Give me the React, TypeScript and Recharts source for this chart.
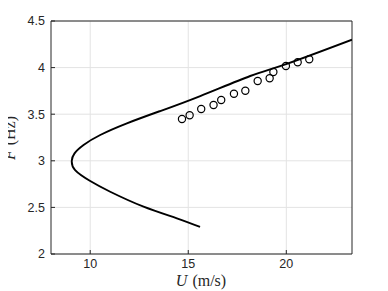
import { ComposedChart, Line, Scatter, XAxis, YAxis, CartesianGrid, ReferenceLine } from "recharts";

// model curve, traced from lower end through the turning point to the upper end
const curveU = [15.6, 14.42, 12.72, 11.02, 10.0, 9.23, 9.06, 9.2, 9.66, 10.51, 11.87, 13.57, 15.61, 18.16, 19.95, 23.35];
const curveF = [2.29, 2.383, 2.508, 2.668, 2.783, 2.9, 3.0, 3.08, 3.17, 3.277, 3.402, 3.534, 3.695, 3.91, 4.035, 4.3];

// measured points
const measU = [14.68, 15.07, 15.66, 16.29, 16.68, 17.33, 17.91, 18.54, 19.15, 19.34, 19.98, 20.58, 21.17];
const measF = [3.449, 3.488, 3.556, 3.599, 3.652, 3.72, 3.752, 3.856, 3.885, 3.953, 4.017, 4.057, 4.089];

const xTicks = [10, 15, 20];
const yTicks = [2, 2.5, 3, 3.5, 4, 4.5];
const xDomain = [8, 23.35];
const yDomain = [2, 4.5];

const curve = curveU.map((u, i) => ({ u, f: curveF[i] }));
const meas = measU.map((u, i) => ({ u, f: measF[i] }));

const axisColor = "#262626";
const tickFont = { fontFamily: "Liberation Sans, Arial, sans-serif", fontSize: 12.5, fill: axisColor };
const serif = "Liberation Serif, DejaVu Serif, serif";

const Ring = (props: any) => (
  <circle cx={props.cx} cy={props.cy} r={3.6} fill="none" stroke="#000" strokeWidth={1.2} />
);

export default function App() {
  return (
    <div style={{ width: 388, height: 291, margin: "-8px 0 0 -8px" }}>
      <ComposedChart width={388} height={291} margin={{ top: 21, right: 36, bottom: 0, left: 16 }}>
        <CartesianGrid xAxisId="b" yAxisId="l" stroke="#e3e3e3" strokeWidth={1} horizontalValues={yTicks} verticalValues={xTicks} />
        <XAxis
          xAxisId="b"
          type="number"
          dataKey="u"
          domain={xDomain}
          ticks={xTicks}
          allowDataOverflow
          height={37}
          stroke={axisColor}
          tickSize={-4}
          tickMargin={9}
          tick={tickFont}
          label={{
            content: () => (
              <text x={201} y={286} textAnchor="middle" fontFamily={serif} fontSize={16} fill={axisColor}>
                <tspan fontStyle="italic">U</tspan>
                <tspan dx={5}>(m/s)</tspan>
              </text>
            ),
          }}
        />
        <YAxis
          yAxisId="l"
          type="number"
          dataKey="f"
          domain={yDomain}
          ticks={yTicks}
          allowDataOverflow
          width={35}
          stroke={axisColor}
          tickSize={-4}
          tickMargin={10}
          tick={tickFont}
          label={{
            content: () => (
              <text
                x={15}
                y={138}
                textAnchor="middle"
                fontFamily={serif}
                fontSize={16}
                fill={axisColor}
                transform="rotate(-90 15 138)"
              >
                <tspan fontStyle="italic">F</tspan>
                <tspan dx={5}>(Hz)</tspan>
              </text>
            ),
          }}
        />
        <ReferenceLine xAxisId="b" yAxisId="l" y={yDomain[1]} stroke={axisColor} strokeWidth={1} />
        <ReferenceLine xAxisId="b" yAxisId="l" x={xDomain[1]} stroke={axisColor} strokeWidth={1} />
        <Line
          xAxisId="b"
          yAxisId="l"
          data={curve}
          dataKey="f"
          type="natural"
          stroke="#000"
          strokeWidth={1.9}
          dot={false}
          activeDot={false}
          isAnimationActive={false}
        />
        <Scatter xAxisId="b" yAxisId="l" data={meas} dataKey="f" shape={Ring} isAnimationActive={false} />
      </ComposedChart>
    </div>
  );
}
